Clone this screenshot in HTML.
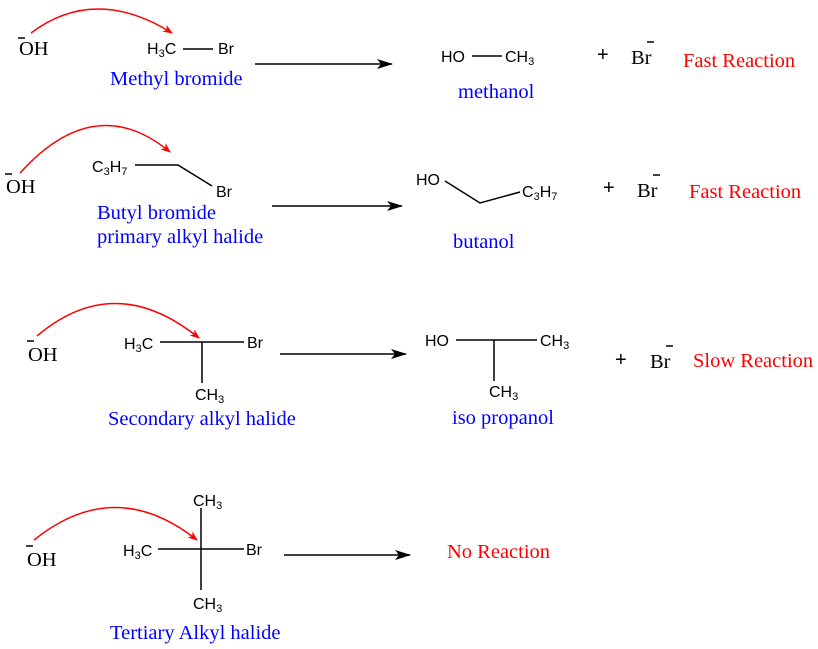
<!DOCTYPE html>
<html><head><meta charset="utf-8"><style>
html,body{margin:0;padding:0;background:#fff}
svg{display:block}
.s{font-family:"Liberation Sans",sans-serif;font-size:16px;fill:#000}
.sub{font-size:11px}
.r{font-family:"Liberation Serif",serif;font-size:20.5px}
.b{fill:#0000ff}.red{fill:#ff0000}.k{fill:#000}
.pl{font-family:"Liberation Sans",sans-serif;font-size:20px;fill:#000}
line,path,polyline{stroke:#000;stroke-width:1.5;fill:none}
.arc{stroke:#ff0000;stroke-width:1.5;fill:none}
</style></head><body>
<svg width="818" height="649" viewBox="0 0 818 649" xmlns="http://www.w3.org/2000/svg">
<defs>
<marker id="ra" markerWidth="10" markerHeight="8" refX="9" refY="4" orient="auto" markerUnits="userSpaceOnUse"><path d="M0,0 L10,4 L0,8 L3,4 Z" style="fill:#ff0000;stroke:none"/></marker>
<marker id="ka" markerWidth="16" markerHeight="10" refX="15" refY="5" orient="auto" markerUnits="userSpaceOnUse"><path d="M0,0 L16,5 L0,10 L4,5 Z" style="fill:#000;stroke:none"/></marker>
</defs>

<!-- Row 1 -->
<line x1="18" y1="38" x2="25" y2="38"/>
<text x="19" y="55" class="r k">OH</text>
<path class="arc" d="M31,33 Q95,-15 172,33" marker-end="url(#ra)"/>
<text x="147" y="54" class="s">H<tspan class="sub" dy="3">3</tspan><tspan dy="-3">C</tspan></text>
<line x1="183" y1="49" x2="213" y2="49"/>
<text x="218" y="54" class="s">Br</text>
<text x="110" y="85" class="r b">Methyl bromide</text>
<line x1="255" y1="64" x2="392" y2="64" marker-end="url(#ka)"/>
<text x="441" y="62" class="s">HO</text>
<line x1="472" y1="56" x2="502" y2="56"/>
<text x="505" y="62" class="s">CH<tspan class="sub" dy="3">3</tspan></text>
<text x="458" y="98" class="r b">methanol</text>
<text x="597" y="61" class="pl">+</text>
<text x="631" y="64" class="r k">Br</text>
<line x1="647" y1="42" x2="654" y2="42"/>
<text x="683" y="67" class="r red">Fast Reaction</text>

<!-- Row 2 -->
<line x1="5" y1="174" x2="12" y2="174"/>
<text x="6" y="193" class="r k">OH</text>
<path class="arc" d="M20,173 Q95,90 170,152" marker-end="url(#ra)"/>
<text x="92" y="172" class="s">C<tspan class="sub" dy="3">3</tspan><tspan dy="-3">H</tspan><tspan class="sub" dy="3">7</tspan></text>
<polyline points="135,165 178,165 212,186"/>
<text x="216" y="197" class="s">Br</text>
<text x="97" y="219" class="r b">Butyl bromide</text>
<text x="97" y="243" class="r b">primary alkyl halide</text>
<line x1="272" y1="206" x2="402" y2="206" marker-end="url(#ka)"/>
<text x="416" y="185" class="s">HO</text>
<polyline points="445,181 480,203 520,192"/>
<text x="522" y="197" class="s">C<tspan class="sub" dy="3">3</tspan><tspan dy="-3">H</tspan><tspan class="sub" dy="3">7</tspan></text>
<text x="453" y="248" class="r b">butanol</text>
<text x="603" y="194" class="pl">+</text>
<text x="637" y="197" class="r k">Br</text>
<line x1="653" y1="175" x2="660" y2="175"/>
<text x="689" y="198" class="r red">Fast Reaction</text>

<!-- Row 3 -->
<line x1="27" y1="341" x2="34" y2="341"/>
<text x="28" y="361" class="r k">OH</text>
<path class="arc" d="M37,336 Q115,270 199,338" marker-end="url(#ra)"/>
<text x="124" y="349" class="s">H<tspan class="sub" dy="3">3</tspan><tspan dy="-3">C</tspan></text>
<line x1="160" y1="342" x2="244" y2="342"/>
<line x1="202" y1="342" x2="202" y2="383"/>
<text x="247" y="348" class="s">Br</text>
<text x="195" y="400" class="s">CH<tspan class="sub" dy="3">3</tspan></text>
<text x="108" y="425" class="r b">Secondary alkyl halide</text>
<line x1="280" y1="354" x2="406" y2="354" marker-end="url(#ka)"/>
<text x="425" y="346" class="s">HO</text>
<line x1="456" y1="340" x2="537" y2="340"/>
<line x1="494" y1="340" x2="494" y2="381"/>
<text x="540" y="346" class="s">CH<tspan class="sub" dy="3">3</tspan></text>
<text x="489" y="397" class="s">CH<tspan class="sub" dy="3">3</tspan></text>
<text x="452" y="424" class="r b">iso propanol</text>
<text x="615" y="366" class="pl">+</text>
<text x="650" y="368" class="r k">Br</text>
<line x1="666" y1="346" x2="673" y2="346"/>
<text x="693" y="367" class="r red">Slow Reaction</text>

<!-- Row 4 -->
<line x1="26" y1="546" x2="33" y2="546"/>
<text x="27" y="566" class="r k">OH</text>
<path class="arc" d="M34,540 Q115,475 197,540" marker-end="url(#ra)"/>
<text x="193" y="506" class="s">CH<tspan class="sub" dy="3">3</tspan></text>
<line x1="201" y1="508" x2="201" y2="590"/>
<line x1="158" y1="549" x2="244" y2="549"/>
<text x="123" y="556" class="s">H<tspan class="sub" dy="3">3</tspan><tspan dy="-3">C</tspan></text>
<text x="246" y="555" class="s">Br</text>
<text x="193" y="609" class="s">CH<tspan class="sub" dy="3">3</tspan></text>
<text x="110" y="639" class="r b">Tertiary Alkyl halide</text>
<line x1="284" y1="555" x2="410" y2="555" marker-end="url(#ka)"/>
<text x="447" y="558" class="r red">No Reaction</text>
</svg>
</body></html>
